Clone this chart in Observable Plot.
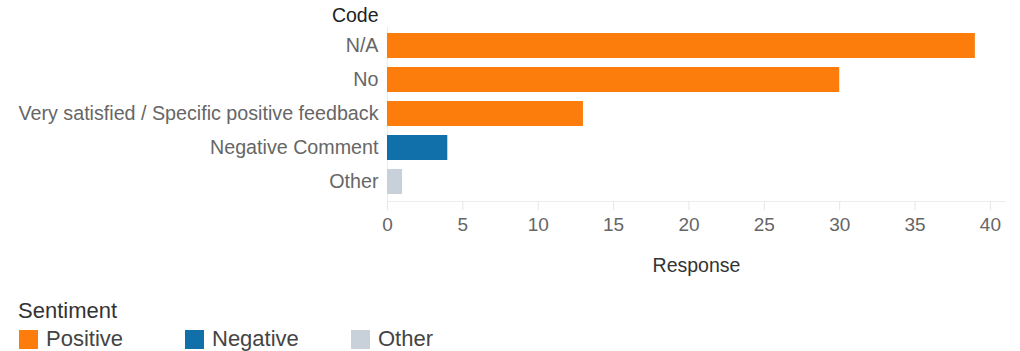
<!DOCTYPE html>
<html><head><meta charset="utf-8">
<script src="https://cdn.jsdelivr.net/npm/d3@7"></script>
<script src="https://cdn.jsdelivr.net/npm/@observablehq/plot@0.6"></script>
<style>
body{margin:0;background:#fff;font-family:"Liberation Sans",Arial,sans-serif;}
#legend{position:relative;height:61px;}
#legend .title{position:absolute;left:18px;top:10px;font-size:22px;color:#333;line-height:22px;}
#legend .item{position:absolute;top:38px;display:flex;align-items:center;font-size:22px;color:#444;line-height:22px;}
#legend .sw{width:19px;height:19px;margin-right:8px;}
</style>
</head><body>
<div id="chart"></div>
<div id="legend"></div>
<script>
const codes = ["N/A","No","Very satisfied / Specific positive feedback","Negative Comment","Other"];
const responses = [39,30,13,4,1];
const sentiments = ["Positive","Positive","Positive","Negative","Other"];
const sentimentDomain = ["Positive","Negative","Other"];
const sentimentColors = ["#fc7d0b","#1170aa","#c8d0d9"];
const xTicks = [0,5,10,15,20,25,30,35,40];

const data = codes.map((c,i)=>({code:c,response:responses[i],sentiment:sentiments[i]}));

const plot = Plot.plot({
  width:1020, height:290,
  marginLeft:387, marginRight:15, marginTop:27, marginBottom:89,
  style:{fontFamily:"'Liberation Sans', Arial, sans-serif", fontSize:"19px", color:"#666"},
  x:{domain:[0,41]},
  y:{domain:codes, paddingInner:0.26, paddingOuter:0.13},
  color:{domain:sentimentDomain, range:sentimentColors},
  marks:[
    Plot.frame({anchor:"bottom", stroke:"#ececec", strokeOpacity:1}),
    Plot.frame({anchor:"left", stroke:"#ececec", strokeOpacity:1}),
    Plot.barX(data,{x:"response", y:"code", fill:"sentiment"}),
    Plot.axisX({ticks:xTicks, tickSize:9, tickPadding:7, stroke:"#e6e6e6", fill:"#666", fontSize:19,
      label:"Response", labelAnchor:"center", labelArrow:"none", labelOffset:70}),
    Plot.axisY({tickSize:0, tickPadding:9, fill:"#666", fontSize:19.7,
      label:"Code", labelAnchor:"top", labelArrow:"none", labelOffset:9})
  ]
});
d3.select(plot).selectAll("g[aria-label='x-axis label'] text").attr("fill","#333").style("font-size","19.5px");
d3.select(plot).selectAll("g[aria-label='y-axis label']").attr("transform", function(){ return (d3.select(this).attr("transform")||"") + " translate(0,5)"; });
d3.select(plot).selectAll("g[aria-label='y-axis label'] text")
  .attr("fill","#222").attr("text-anchor","end").style("font-size","19.5px");
document.getElementById("chart").appendChild(plot);

const lg = document.getElementById("legend");
const t = document.createElement("div"); t.className="title"; t.textContent="Sentiment"; lg.appendChild(t);
const lefts=[19,185,351];
sentimentDomain.forEach((s,i)=>{
  const it=document.createElement("div"); it.className="item"; it.style.left=lefts[i]+"px";
  const sw=document.createElement("div"); sw.className="sw"; sw.style.background=sentimentColors[i];
  const tx=document.createElement("span"); tx.textContent=s;
  it.appendChild(sw); it.appendChild(tx); lg.appendChild(it);
});
</script>
</body></html>
